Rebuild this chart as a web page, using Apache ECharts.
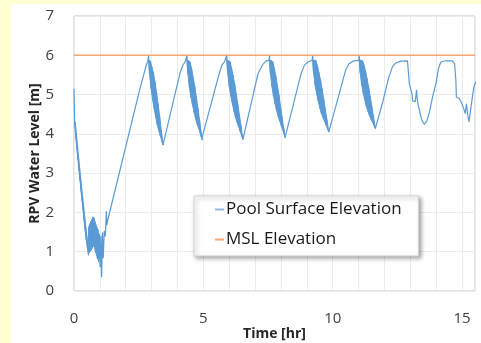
<!DOCTYPE html>
<html><head><meta charset="utf-8">
<script src="https://cdn.jsdelivr.net/npm/echarts@6/dist/echarts.min.js"></script>
<style>
html,body{margin:0;padding:0;background:#FFFFD4;width:481px;height:343px;overflow:hidden}
#c{position:absolute;left:11px;top:4px;width:470px;height:339px;background:#ffffff}
</style></head><body><div id="c"></div>
<script>
// ---- data (time [hr], level [m]) ----
var initialDrop = [[0.00,5.15],[0.01,4.85],[0.02,4.45],[0.03,4.20],[0.05,4.30],[0.07,3.90],[0.09,4.00],[0.11,3.62],[0.13,3.72],[0.15,3.35],[0.17,3.45],[0.19,3.08],[0.21,3.18],[0.23,2.82],[0.25,2.92],[0.27,2.55],[0.29,2.66],[0.31,2.30],[0.33,2.40],[0.35,2.05],[0.37,2.15],[0.39,1.80],[0.41,1.90],[0.43,1.55],[0.45,1.65],[0.47,1.32],[0.49,1.42],[0.52,1.10],[0.54,1.18],[0.56,0.92]];
var clusterDense = [[0.57,1.62],[0.59,0.98],[0.61,1.70],[0.63,1.02],[0.65,1.76],[0.67,1.05],[0.69,1.82],[0.71,1.10],[0.73,1.88],[0.75,1.15],[0.77,1.86],[0.79,1.12],[0.81,1.76],[0.83,1.00],[0.85,1.68],[0.87,0.92],[0.89,1.60],[0.91,0.82],[0.93,1.55]];
var clusterThin = [[0.95,0.75],[0.98,1.45],[1.01,0.62],[1.04,1.40],[1.06,0.55],[1.07,0.36],[1.10,1.48],[1.13,0.85],[1.17,1.52],[1.21,1.40],[1.25,2.02],[1.27,1.68],[1.31,1.82]];
var rise1 = [[2.55,5.15],[2.70,5.52],[2.79,5.74],[2.85,5.85],[2.89,6.00]];
var band1 = [[2.89,5.88],[2.92,5.53],[2.95,5.85],[2.98,5.15],[3.01,5.70],[3.04,4.87],[3.07,5.55],[3.10,4.64],[3.13,5.32],[3.16,4.43],[3.19,5.05],[3.22,4.23],[3.25,4.76],[3.28,4.08],[3.31,4.45],[3.34,3.94],[3.37,4.11],[3.40,3.81],[3.43,3.79],[3.44,3.72]];
var rise2 = [[4.10,5.55],[4.20,5.74],[4.29,5.83],[4.35,5.86],[4.37,6.00]];
var band2 = [[4.37,5.88],[4.40,5.55],[4.43,5.86],[4.46,5.19],[4.49,5.82],[4.52,4.94],[4.55,5.64],[4.58,4.74],[4.61,5.43],[4.64,4.55],[4.67,5.19],[4.70,4.39],[4.73,4.93],[4.76,4.25],[4.79,4.65],[4.82,4.14],[4.85,4.36],[4.88,4.02],[4.91,4.07],[4.94,3.88],[4.96,3.84]];
var rise3 = [[5.62,5.55],[5.72,5.75],[5.82,5.84],[5.89,5.87],[5.91,6.00]];
var band3 = [[5.91,5.88],[5.94,5.55],[5.97,5.86],[6.00,5.21],[6.03,5.84],[6.06,4.97],[6.09,5.67],[6.12,4.78],[6.15,5.48],[6.18,4.58],[6.21,5.27],[6.24,4.43],[6.27,5.02],[6.30,4.30],[6.33,4.76],[6.36,4.19],[6.39,4.49],[6.42,4.07],[6.45,4.22],[6.48,3.96],[6.51,3.95],[6.53,3.86]];
var rise4 = [[7.11,5.53],[7.30,5.77],[7.42,5.85],[7.54,5.87],[7.56,6.00]];
var band4 = [[7.56,5.88],[7.59,5.55],[7.62,5.86],[7.65,5.21],[7.68,5.84],[7.71,4.97],[7.74,5.67],[7.77,4.77],[7.80,5.47],[7.83,4.60],[7.86,5.24],[7.89,4.45],[7.92,4.99],[7.95,4.33],[7.98,4.71],[8.01,4.22],[8.04,4.44],[8.07,4.10],[8.10,4.16],[8.13,3.98],[8.16,3.91]];
var rise5 = [[8.78,5.54],[8.91,5.75],[9.04,5.83],[9.20,5.87],[9.23,6.00]];
var band5 = [[9.23,5.88],[9.26,5.56],[9.29,5.87],[9.32,5.24],[9.35,5.86],[9.38,5.02],[9.41,5.73],[9.44,4.84],[9.47,5.55],[9.50,4.67],[9.53,5.36],[9.56,4.53],[9.59,5.14],[9.62,4.42],[9.65,4.89],[9.68,4.33],[9.71,4.64],[9.74,4.23],[9.77,4.38],[9.80,4.14],[9.83,4.14],[9.85,4.05]];
var rise6 = [[10.50,5.62],[10.62,5.78],[10.78,5.85],[11.00,5.87],[11.03,6.00]];
var band6 = [[11.03,5.88],[11.06,5.57],[11.09,5.87],[11.12,5.25],[11.15,5.86],[11.18,5.04],[11.21,5.75],[11.24,4.87],[11.27,5.59],[11.30,4.70],[11.33,5.40],[11.36,4.58],[11.39,5.18],[11.42,4.47],[11.45,4.95],[11.48,4.38],[11.51,4.70],[11.54,4.30],[11.57,4.46],[11.60,4.21],[11.63,4.22],[11.65,4.14]];
var tail = [[11.95,4.85],[12.15,5.40],[12.31,5.71],[12.45,5.81],[12.64,5.85],[12.89,5.86],[12.93,5.54],[12.96,5.28],[13.02,5.28],[13.06,5.03],[13.09,4.84],[13.19,4.82],[13.24,5.11],[13.27,4.86],[13.32,4.69],[13.41,4.44],[13.47,4.31],[13.54,4.25],[13.63,4.31],[13.73,4.52],[13.86,4.94],[13.99,5.28],[14.09,5.67],[14.18,5.83],[14.37,5.86],[14.63,5.86],[14.71,5.79],[14.76,5.37],[14.78,4.94],[14.89,4.90],[14.99,4.78],[15.08,4.61],[15.12,4.52],[15.17,4.76],[15.22,4.48],[15.27,4.31],[15.32,4.56],[15.40,4.94],[15.46,5.20],[15.53,5.33]];
var mslTime = [0, 15.5];
var mslLevel = [6, 6];
var seriesNames = ['Pool Surface Elevation', 'MSL Elevation'];
var xLabelEvery = 5;

var poolData = [].concat(initialDrop, clusterDense, clusterThin, rise1, band1, rise2, band2, rise3, band3, rise4, band4, rise5, band5, rise6, band6, tail);
// dense oscillation parts: their envelope (peaks forward, troughs back) is filled so they read as solid bands
var denseParts = [initialDrop.slice(3), clusterDense, band1, band2, band3, band4, band5, band6];
var mslData = mslTime.map(function (t, i) { return [t, mslLevel[i]]; });

var chart = echarts.init(document.getElementById('c'), null, {renderer: 'canvas'});
var FONT = '"Open Sans", sans-serif';
var BLUE = '#5B9BD5';
chart.setOption({
  animation: false,
  backgroundColor: '#ffffff',
  grid: {left: 63, right: 6, top: 12, bottom: 52, outerBoundsMode: 'none', containLabel: false,
         show: true, borderColor: '#c6c6c6', borderWidth: 1, backgroundColor: 'transparent'},
  legend: {
    orient: 'vertical', left: 183, top: 192,
    padding: [5, 17, 8, 21], itemGap: 13,
    itemWidth: 9, itemHeight: 2, icon: 'rect',
    backgroundColor: '#ffffff', borderColor: '#d4d4d4', borderWidth: 1,
    shadowColor: 'rgba(0,0,0,0.35)', shadowBlur: 4, shadowOffsetX: 2, shadowOffsetY: 2,
    textStyle: {fontFamily: FONT, fontSize: 17, color: '#1a1a1a', padding: [0, 0, 0, -3]},
    data: seriesNames
  },
  xAxis: {
    type: 'value', min: 0, max: 15.5, interval: 1,
    axisLine: {show: false}, axisTick: {show: false},
    splitLine: {show: true, lineStyle: {color: '#ebebeb', width: 1}},
    axisLabel: {
      margin: 20, fontFamily: FONT, fontSize: 15, color: '#404040',
      formatter: function (v) { return (v % xLabelEvery === 0) ? String(v) : ''; }
    },
    name: 'Time [hr]', nameLocation: 'middle', nameGap: 36, nameMoveOverlap: false,
    nameTextStyle: {fontFamily: FONT, fontSize: 14, fontWeight: 'bold', color: '#262626'}
  },
  yAxis: {
    type: 'value', min: 0, max: 7, interval: 1,
    axisLine: {show: false}, axisTick: {show: false},
    splitLine: {show: true, lineStyle: {color: '#ebebeb', width: 1}},
    axisLabel: {margin: 20, fontFamily: FONT, fontSize: 15, color: '#404040'},
    name: 'RPV Water Level [m]', nameLocation: 'middle', nameGap: 32, nameRotate: 90, nameMoveOverlap: false,
    nameTextStyle: {fontFamily: FONT, fontSize: 14, fontWeight: 'bold', color: '#262626'}
  },
  series: [
    {
      name: seriesNames[0], type: 'line', data: poolData, z: 3,
      showSymbol: false, symbol: 'none', sampling: null, clip: true,
      lineStyle: {color: BLUE, width: 1.2, join: 'round'}, itemStyle: {color: '#8DB8E2'},
      emphasis: {disabled: true}
    },
    {
      name: seriesNames[0], type: 'custom', z: 2,
      data: denseParts.map(function (p) { return p[0]; }),
      encode: {x: 0, y: 1},
      renderItem: function (params, api) {
        var part = denseParts[params.dataIndex];
        var upper = [], lower = [];
        part.forEach(function (pt, k) { (k % 2 === 0 ? upper : lower).push(api.coord(pt)); });
        return {
          type: 'polygon',
          shape: {points: upper.concat(lower.reverse())},
          style: {fill: BLUE, stroke: BLUE, lineWidth: 1}
        };
      },
      emphasis: {disabled: true}, silent: true
    },
    {
      name: seriesNames[1], type: 'line', data: mslData, z: 4,
      showSymbol: false, symbol: 'none',
      lineStyle: {color: '#F7A672', width: 1.6}, itemStyle: {color: '#F7A672'},
      emphasis: {disabled: true}
    }
  ]
});
</script></body></html>
